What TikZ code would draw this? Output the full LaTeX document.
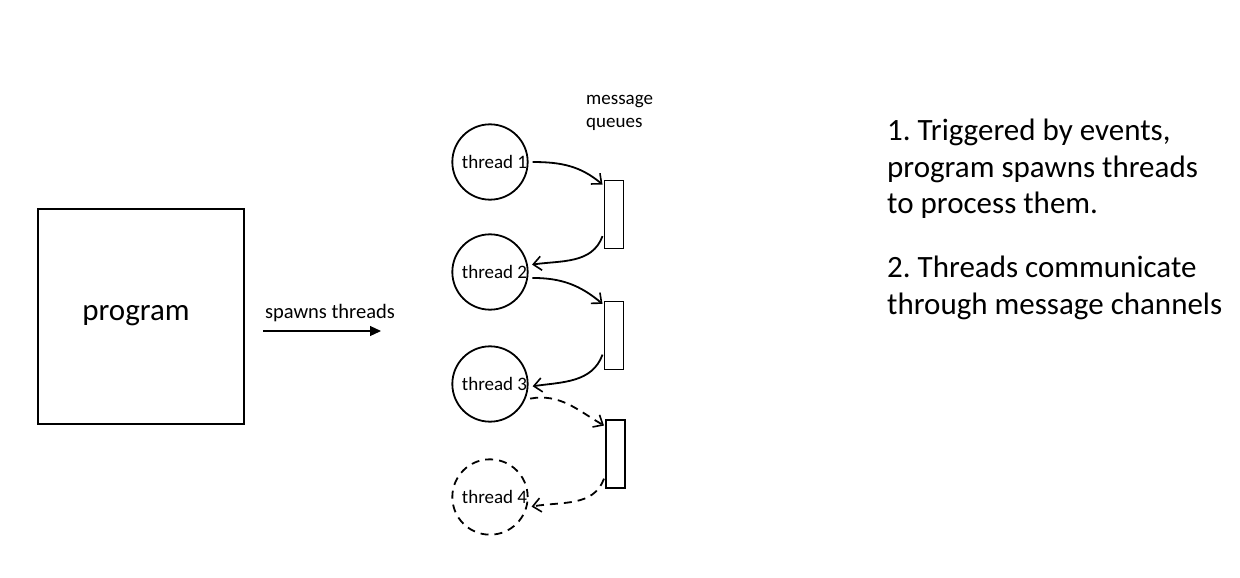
\documentclass[tikz,border=0pt]{standalone}
\usepackage{fontspec}
\setmainfont{Carlito}
\frenchspacing
\usetikzlibrary{arrows.meta}
\tikzset{
  thread/.style={circle, draw, line width=1.8pt, minimum size=74pt, inner sep=0pt, outer sep=5pt, font=\fontsize{19}{23}\selectfont, execute at begin node=\hspace*{9pt}},
  queue/.style={rectangle, draw, line width=1.8pt, minimum width=19pt, minimum height=68pt, inner sep=0pt, outer sep=2pt},
  link/.style={line width=1.8pt, -{Straight Barb[length=8pt,width=14pt,line width=1.6pt]}},
  flow/.style={dashed, dash pattern=on 8pt off 6pt},
  small/.style={font=\fontsize{19}{23}\selectfont, inner sep=0pt},
  big/.style={font=\fontsize{31}{36.5}\selectfont, inner sep=0pt, align=left}
}
\begin{document}
\begin{tikzpicture}[x=1pt,y=-1pt]
\useasboundingbox (0,0) rectangle (1240,578);

\node[draw, line width=2pt, minimum width=206pt, minimum height=215pt] (prog) at (140.5,316) {};
\node[font=\fontsize{31}{36}\selectfont, inner sep=0pt] (progtext) at (136,316) {program};
\node[small, font=\fontsize{20.5}{24}\selectfont] (spawn) at (330,313) {spawns threads};
\coordinate (sa) at (263,331);
\coordinate (sb) at (381,331);
\draw[line width=1.2pt, -{Triangle[length=11pt,width=10pt]}] (sa) -- (sb);

\node[thread] (t1) at (490,162) {thread 1};
\node[thread] (t2) at (490,272) {thread 2};
\node[thread] (t3) at (490,384) {thread 3};
\node[thread, flow] (t4) at (490,497) {thread 4};

\node[queue] (q1) at (614,214.5) {};
\node[queue] (q2) at (614,335.5) {};
\node[queue] (q3) at (615.5,454) {};

\node[small, anchor=north west, align=left] (mq) at (586,95) {message\\queues};

\draw[link] (t1.east) to[out=0, in=140] (q1.111);
\draw[link] (q1.242) to[out=250, in=8] (t2.10);
\draw[link] (t2.-8) to[out=0, in=140] (q2.110);
\draw[link] (q2.239) to[out=250, in=8] (t3.-3);
\draw[link, flow] (t3.-20) to[out=10, in=150] (q3.112);
\draw[link, flow] (q3.245) to[out=250, in=10] (t4.-13);

\node[big, anchor=north west] (note1) at (887,119) {1. Triggered by events,\\program spawns threads\\to process them.};
\node[big, anchor=north west] (note2) at (887,256) {2. Threads communicate\\through message channels};
\end{tikzpicture}
\end{document}
